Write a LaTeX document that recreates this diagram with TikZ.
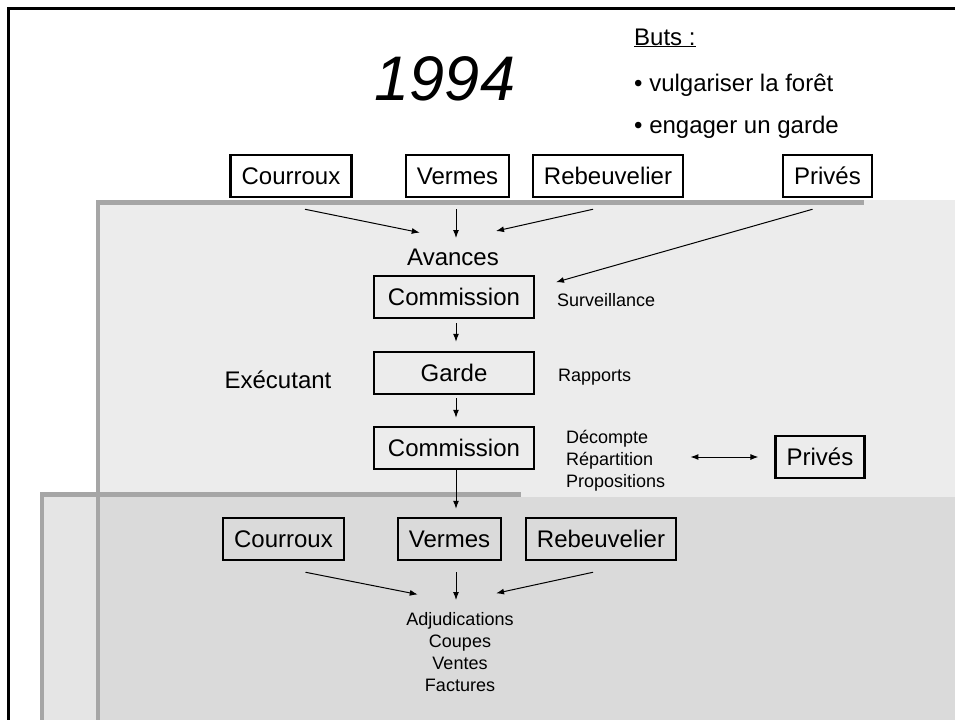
\documentclass[tikz,border=0pt]{standalone}
\usepackage{fontspec}
\setmainfont{Liberation Sans}
\usetikzlibrary{positioning,arrows.meta}

\newcommand\boxfont{\fontsize{24}{28}\selectfont}
\newcommand\labfont{\fontsize{18}{22}\selectfont}
\definecolor{paneup}{HTML}{ECECEC}
\definecolor{panelow}{HTML}{DADADA}
\definecolor{paneside}{HTML}{E5E5E5}
\definecolor{paneedge}{HTML}{A6A6A6}

\begin{document}
\begin{tikzpicture}[x=1pt,y=-1pt,on grid,
    box/.style={draw,line width=2.5pt,inner xsep=11pt,inner ysep=0pt,
        minimum height=42pt,font=\boxfont},
    combox/.style={box,minimum width=160pt},
    lab/.style={font=\labfont,inner sep=0pt},
    arr/.style={-{Latex[length=8pt,width=6pt]},line width=1pt},
    darr/.style={{Latex[length=8pt,width=6pt]}-{Latex[length=8pt,width=6pt]},line width=1pt}]

    \useasboundingbox (0,0) rectangle (955,720);

    %shaded panes: upper one, then the lower one lying over it
    \fill[paneup] (96,200) rectangle (955,720);
    \fill[paneside] (40,492) rectangle (96,720);
    \fill[panelow] (96,497) rectangle (955,720);
    \fill[paneedge] (96,200) rectangle (864,205);
    \fill[paneedge] (96,200) rectangle (100,720);
    \fill[paneedge] (40,492) rectangle (521,497);
    \fill[paneedge] (40,492) rectangle (44,720);

    %frame
    \draw[line width=3pt] (955,8.5) -- (8.5,8.5) -- (8.5,720);

    %title and aims
    \node[font=\fontsize{63}{70}\selectfont\itshape,inner sep=0pt,anchor=base] (year) at (445,100) {1994};
    \node[font=\boxfont,inner sep=0pt,anchor=base west] (buts) at (634,45) {\underline{Buts :}};
    \node[font=\boxfont,inner sep=0pt,anchor=base west] (aim1) at (634,91) {• vulgariser la forêt};
    \node[font=\boxfont,inner sep=0pt,anchor=base west] (aim2) at (634,133) {• engager un garde};

    %communes on top
    \node[box] (cour1) at (291,176) {Courroux};
    \node[box] (verm1) at (457.5,176) {Vermes};
    \node[box] (reb1) at (608,176) {Rebeuvelier};
    \node[box] (priv1) at (827.5,176) {Privés};

    \coordinate (meet) at (456,240);
    \node[font=\boxfont,inner sep=0pt,anchor=base] (avc) at (453,265) {Avances};

    %column in the middle
    \node[combox] (com1) at (454,297) {Commission};
    \node[combox,below=76pt of com1] (garde) {Garde};
    \node[combox,below=75pt of garde] (com2) {Commission};
    \node[font=\boxfont,inner sep=0pt,anchor=base] (exec) at (278,388) {Exécutant};

    %labels on the right
    \node[lab,anchor=west] (surv) at (557,300) {Surveillance};
    \node[lab,anchor=west] (rapp) at (558,377) {Rapports};
    \node[lab,align=left,anchor=north west] (dec) at (566,430) {Décompte\\Répartition\\Propositions};
    \node[box] (priv2) at (820,457) {Privés};

    %communes below
    \node[box] (cour2) at (283.5,539) {Courroux};
    \node[box] (verm2) at (449.5,539) {Vermes};
    \node[box] (reb2) at (601,539) {Rebeuvelier};

    \coordinate (meet2) at (456,602);
    \node[lab,align=center,anchor=north] (adj) at (460,612) {Adjudications\\Coupes\\Ventes\\Factures};

    %putting arrows
    \draw[arr,shorten >=37pt] ([shift={(14,11)}]cour1.south) -- (meet);
    \draw[arr,shorten >=2pt] ([shift={(0,11)}]cour1.south -| meet) -- (meet);
    \draw[arr,shorten >=41pt] ([shift={(-15,11)}]reb1.south) -- (meet);
    \draw[arr] ([shift={(-15,11)}]priv1.south) -- ([shift={(-1,-11)}]surv.north west);

    \draw[arr,shorten <=4pt,shorten >=9pt] (com1.south -| meet) -- (garde.north -| meet);
    \draw[arr,shorten <=3pt,shorten >=8pt] (garde.south -| meet) -- (com2.north -| meet);
    \draw[arr,shorten >=8pt] (com2.south -| meet) -- (verm2.north -| meet);

    \draw[darr,shorten <=25pt,shorten >=16pt] (dec.east |- priv2) -- (priv2.west);

    \draw[arr,shorten >=39pt] ([shift={(22,11)}]cour2.south) -- (meet2);
    \draw[arr,shorten >=2pt] ([shift={(0,11)}]verm2.south -| meet2) -- (meet2);
    \draw[arr,shorten >=41pt] ([shift={(-8,11)}]reb2.south) -- (meet2);
\end{tikzpicture}
\end{document}
